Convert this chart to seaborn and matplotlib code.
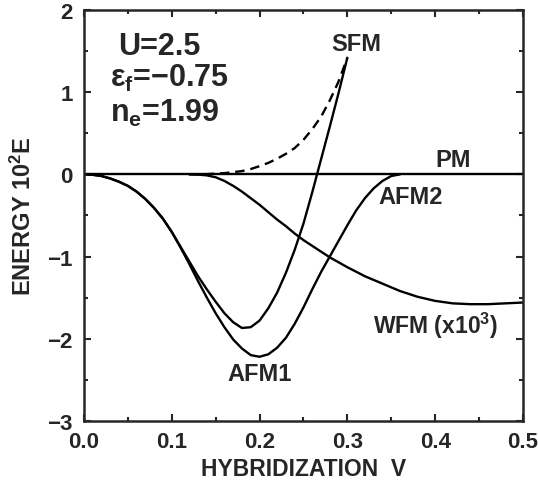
import numpy as np
import pandas as pd
import matplotlib
matplotlib.use('Agg')
import matplotlib.pyplot as plt
import seaborn as sns

# curves (V, 10^2 E)
pm_v = [0.0, 0.5]
pm_e = [0.0, 0.0]

sfm_dash_v = [0.12, 0.14, 0.16, 0.18, 0.19, 0.20, 0.21, 0.22, 0.23, 0.24, 0.25, 0.26, 0.27, 0.28, 0.29, 0.30]
sfm_dash_e = [0.0, 0.003, 0.015, 0.04, 0.065, 0.10, 0.14, 0.19, 0.25, 0.32, 0.42, 0.55, 0.70, 0.90, 1.13, 1.42]

sfm_v = [0.0, 0.01, 0.02, 0.03, 0.04, 0.05, 0.06, 0.07, 0.08, 0.09, 0.10, 0.11,
         0.12, 0.13, 0.14, 0.15, 0.16, 0.17, 0.18, 0.19, 0.20, 0.21, 0.22, 0.23,
         0.24, 0.25, 0.26, 0.27, 0.28, 0.29, 0.30]
sfm_e = [0.0, -0.005, -0.02, -0.05, -0.09, -0.14, -0.21, -0.30, -0.41, -0.54, -0.70, -0.88,
         -1.06, -1.24, -1.40, -1.55, -1.69, -1.80, -1.87, -1.86, -1.78, -1.63, -1.44, -1.20,
         -0.92, -0.60, -0.22, 0.18, 0.58, 0.99, 1.42]

afm_v = [0.0, 0.01, 0.02, 0.03, 0.04, 0.05, 0.06, 0.07, 0.08, 0.09, 0.10, 0.11,
         0.12, 0.13, 0.14, 0.15, 0.16, 0.17, 0.18, 0.19, 0.20, 0.21, 0.22, 0.23,
         0.24, 0.25, 0.26, 0.27, 0.28, 0.29, 0.30, 0.31, 0.32, 0.33, 0.34, 0.35, 0.36]
afm_e = [0.0, -0.005, -0.02, -0.05, -0.09, -0.14, -0.21, -0.30, -0.41, -0.54, -0.70, -0.89,
         -1.09, -1.30, -1.50, -1.69, -1.86, -2.01, -2.12, -2.20, -2.22, -2.19, -2.11, -1.99,
         -1.82, -1.62, -1.40, -1.19, -1.00, -0.81, -0.62, -0.44, -0.29, -0.17, -0.08, -0.02, 0.0]

wfm_v = [0.12, 0.13, 0.14, 0.15, 0.16, 0.17, 0.18, 0.19, 0.20, 0.21, 0.22, 0.23, 0.24, 0.25,
         0.26, 0.27, 0.28, 0.29, 0.30, 0.32, 0.34, 0.36, 0.38, 0.40, 0.42, 0.44, 0.46, 0.48, 0.50]
wfm_e = [0.0, -0.003, -0.012, -0.035, -0.08, -0.14, -0.21, -0.29, -0.37, -0.46, -0.55, -0.63, -0.72, -0.80,
         -0.87, -0.94, -1.01, -1.07, -1.13, -1.24, -1.33, -1.42, -1.49, -1.54, -1.57, -1.58, -1.58, -1.57, -1.56]

sns.set_style('ticks')
plt.rcParams['font.family'] = ['Liberation Sans', 'DejaVu Sans']
plt.rcParams['font.weight'] = 'bold'
plt.rcParams['mathtext.fontset'] = 'custom'
plt.rcParams['mathtext.rm'] = 'Liberation Sans:bold'
plt.rcParams['mathtext.it'] = 'Liberation Sans:bold'
plt.rcParams['mathtext.bf'] = 'Liberation Sans:bold'

fig = plt.figure(figsize=(5.38, 4.81), dpi=100)
ax = fig.add_axes([0.156, 0.123, 0.816, 0.854])

lw = 1.7
sns.lineplot(x=pm_v, y=pm_e, color='black', lw=lw, ax=ax)
sns.lineplot(x=sfm_dash_v, y=sfm_dash_e, color='black', lw=lw, linestyle=(0, (4, 2.5)), ax=ax)
sns.lineplot(x=sfm_v, y=sfm_e, color='black', lw=lw, ax=ax)
sns.lineplot(x=afm_v, y=afm_e, color='black', lw=lw, ax=ax)
sns.lineplot(x=wfm_v, y=wfm_e, color='black', lw=lw, ax=ax)

ax.set_xlim(0, 0.5)
ax.set_ylim(-3, 2)
ax.set_xticks(np.arange(0, 0.51, 0.1))
ax.set_xticklabels(['0.0', '0.1', '0.2', '0.3', '0.4', '0.5'])
ax.set_xticks(np.arange(0.05, 0.5, 0.1), minor=True)
ax.set_yticks([-3, -2, -1, 0, 1, 2])
ax.set_yticklabels(['\u22123', '\u22122', '\u22121', '0', '1', '2'])
ax.set_yticks([-2.5, -1.5, -0.5, 0.5, 1.5], minor=True)
ax.tick_params(which='both', direction='in', top=True, right=True, width=1.5, labelsize=16)
ax.tick_params(which='major', length=5)
ax.tick_params(which='minor', length=3)
ax.tick_params(axis='x', which='major', pad=7)
ax.tick_params(axis='y', which='major', pad=8)
for s in ax.spines.values():
    s.set_linewidth(1.8)

ax.set_xlabel('HYBRIDIZATION  V', fontsize=16.5, fontweight='bold', labelpad=4)
ax.set_ylabel('ENERGY 10$^2$E', fontsize=17, fontweight='bold', labelpad=8)

ax.text(0.039, 1.56, 'U=2.5', fontsize=22, fontweight='bold', va='center')
ax.text(0.03, 1.18, '\u03b5$_f$=\u22120.75', fontsize=22, fontweight='bold', va='center')
ax.text(0.03, 0.75, 'n$_e$=1.99', fontsize=22, fontweight='bold', va='center')
ax.text(0.31, 1.59, 'SFM', fontsize=17, fontweight='bold', ha='center', va='center')
ax.text(0.42, 0.18, 'PM', fontsize=17, fontweight='bold', ha='center', va='center')
ax.text(0.372, -0.27, 'AFM2', fontsize=17, fontweight='bold', ha='center', va='center')
ax.text(0.2, -2.42, 'AFM1', fontsize=17, fontweight='bold', ha='center', va='center')
ax.text(0.40, -1.83, 'WFM (x10$^3$)', fontsize=16.5, fontweight='bold', ha='center', va='center')

fig.savefig('out.png', dpi=100)
